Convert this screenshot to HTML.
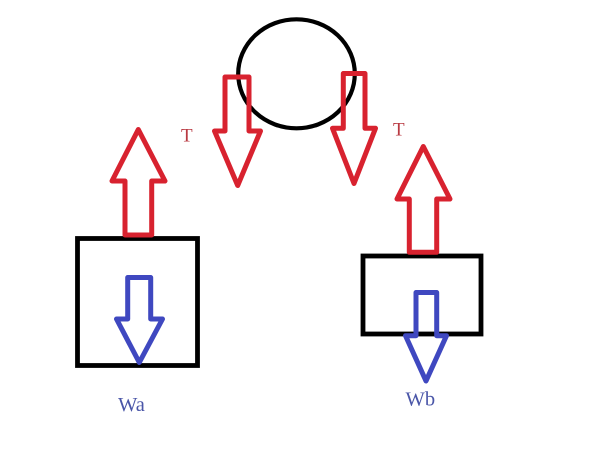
<!DOCTYPE html>
<html>
<head>
<meta charset="utf-8">
<style>
html,body{margin:0;padding:0;background:#fff}
svg{display:block}
text{font-family:"Liberation Serif",serif}
</style>
</head>
<body>
<svg width="610" height="464" viewBox="0 0 610 464" xmlns="http://www.w3.org/2000/svg">
<rect width="610" height="464" fill="#fff"/>
<ellipse cx="296.5" cy="73.8" rx="58.3" ry="54.5" fill="none" stroke="#000" stroke-width="4.2"/>
<rect x="77.5" y="238.5" width="120" height="127" fill="none" stroke="#000" stroke-width="4.8"/>
<rect x="363" y="256" width="118" height="78" fill="none" stroke="#000" stroke-width="4.8"/>
<g fill="none" stroke="#d8222f" stroke-width="5" stroke-linejoin="round">
<path d="M138.3 129.5 L165 181 L151.7 181 L151.7 235 L125 235 L125 181 L112 181 Z"/>
<path d="M423.3 146.5 L450 199 L436.7 199 L436.7 252.3 L409.3 252.3 L409.3 199 L397 199 Z"/>
<path d="M225 77 L249 77 L249 131 L260.5 131 L237.7 185.5 L214.5 131 L225 131 Z"/>
<path d="M343.3 73.5 L365 73.5 L365 128.3 L375.5 128.3 L354 183.5 L332.5 128.3 L343.3 128.3 Z"/>
</g>
<g fill="none" stroke="#3f48c0" stroke-width="5" stroke-linejoin="round">
<path d="M127.7 277.5 L150.7 277.5 L150.7 319 L162.5 319 L139.3 362.5 L116.5 319 L127.7 319 Z"/>
<path d="M416 292.5 L436.7 292.5 L436.7 335.7 L446.5 335.7 L426 381 L405.5 335.7 L416 335.7 Z"/>
</g>
<g font-size="19" fill="#b93a42">
<text x="181" y="141.5">T</text>
<text x="393" y="135.5">T</text>
</g>
<g font-size="20.5" fill="#4a56a8">
<text x="118" y="411">Wa</text>
<text x="405.5" y="405.5">Wb</text>
</g>
</svg>
</body>
</html>
